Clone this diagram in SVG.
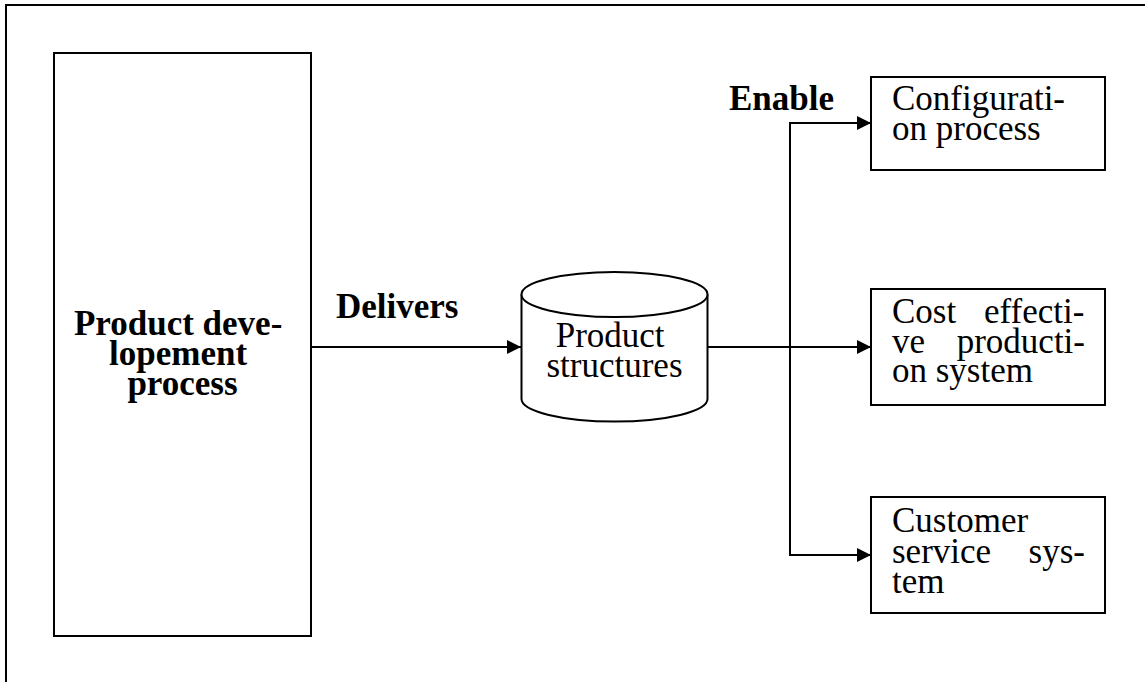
<svg xmlns="http://www.w3.org/2000/svg" width="1145" height="682" viewBox="0 0 1145 682">
  <style>
    .frame { fill: none; stroke: #000; stroke-width: 2; }
    .box { fill: #fff; stroke: #000; stroke-width: 2; }
    .wire { fill: none; stroke: #000; stroke-width: 2; }
    .t { font-family: "Liberation Serif", "Times New Roman", serif; font-size: 35px; fill: #000; }
    .b { font-family: "Liberation Serif", "Times New Roman", serif; font-size: 35px; font-weight: bold; fill: #000; }
  </style>
  <defs>
    <marker id="arrow" viewBox="0 0 14 14" refX="14" refY="7" markerWidth="14" markerHeight="14" markerUnits="userSpaceOnUse" orient="auto">
      <path d="M0,0 L14,7 L0,14 Z" fill="#000"/>
    </marker>
  </defs>

  <rect width="1145" height="682" fill="#fff"/>

  <!-- outer page frame, running off the right and bottom edges -->
  <rect class="frame" x="6" y="5" width="1160" height="700"/>

  <!-- connectors -->
  <g id="connectors">
    <line class="wire" x1="311" y1="347" x2="521" y2="347" marker-end="url(#arrow)"/>
    <line class="wire" x1="708" y1="347" x2="871" y2="347" marker-end="url(#arrow)"/>
    <path class="wire" d="M790,123 V555"/>
    <line class="wire" x1="789" y1="123" x2="871" y2="123" marker-end="url(#arrow)"/>
    <line class="wire" x1="789" y1="555" x2="871" y2="555" marker-end="url(#arrow)"/>
    <text class="b" x="336" y="318">Delivers</text>
    <text class="b" x="834" y="110" text-anchor="end">Enable</text>
  </g>

  <!-- left process block -->
  <g id="product-development">
    <rect class="box" x="54" y="53" width="257" height="583"/>
    <text class="b" text-anchor="middle">
      <tspan x="182.5" y="335">Product deve-</tspan>
      <tspan x="182.5" y="365">lopement</tspan>
      <tspan x="182.5" y="395">process</tspan>
    </text>
  </g>

  <!-- data store cylinder -->
  <g id="product-structures">
    <path class="box" d="M521.5,294.5 V399 A93,22.5 0 0 0 707.5,399 V294.5"/>
    <ellipse class="box" cx="614.5" cy="294.5" rx="93" ry="22.5"/>
    <text class="t" text-anchor="middle">
      <tspan x="614.5" y="347">Product</tspan>
      <tspan x="614.5" y="377">structures</tspan>
    </text>
  </g>

  <g id="configuration-process">
    <rect class="box" x="871" y="77" width="234" height="93"/>
    <text class="t">
      <tspan x="892" y="110">Configurati-</tspan>
      <tspan x="892" y="140">on process</tspan>
    </text>
  </g>

  <!-- justified paragraph: last word of each full line is set flush right at 1085 -->
  <g id="cost-effective-production">
    <rect class="box" x="871" y="289" width="234" height="116"/>
    <text class="t">
      <tspan x="892" y="323">Cost</tspan>
      <tspan x="984" y="323">effecti-</tspan>
      <tspan x="892" y="352.5">ve</tspan>
      <tspan x="956.7" y="352.5">producti-</tspan>
      <tspan x="892" y="382">on system</tspan>
    </text>
  </g>

  <g id="customer-service">
    <rect class="box" x="871" y="497" width="234" height="116"/>
    <text class="t">
      <tspan x="892" y="532">Customer</tspan>
      <tspan x="892" y="562.5">service</tspan>
      <tspan x="1028.6" y="562.5">sys-</tspan>
      <tspan x="892" y="592.5">tem</tspan>
    </text>
  </g>
</svg>
